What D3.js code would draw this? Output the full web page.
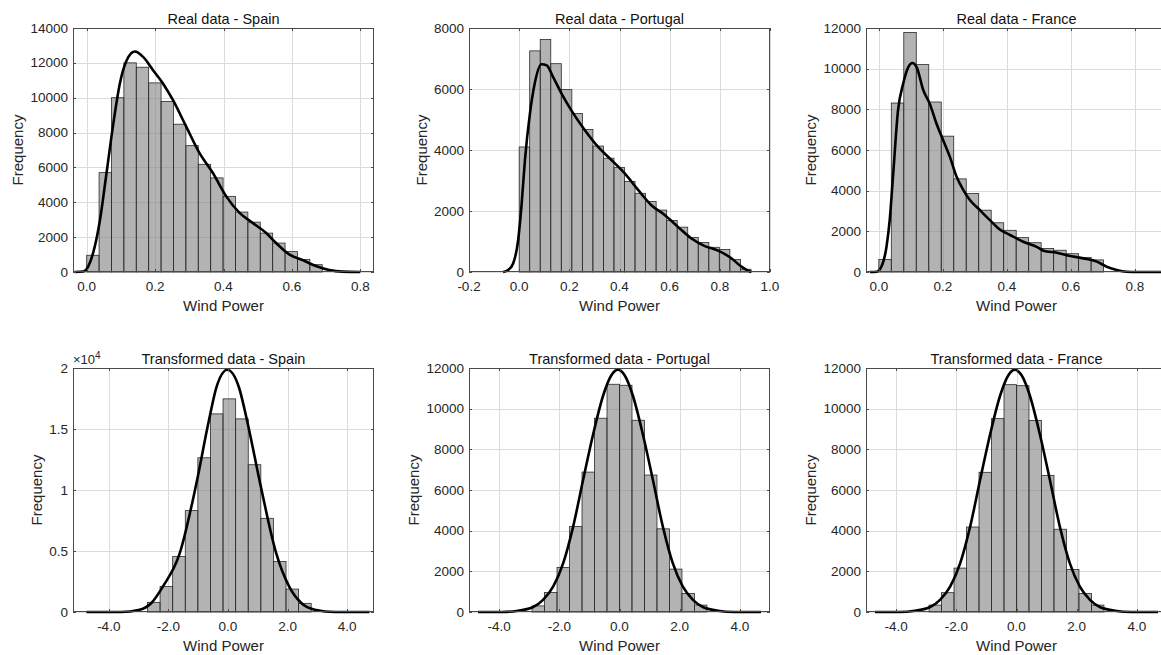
<!DOCTYPE html>
<html>
<head>
<meta charset="utf-8">
<title>Wind power histograms</title>
<style>
  body { margin: 0; background: #fff; }
  svg { font-family: "Liberation Sans", Arial, sans-serif; display: block; }
</style>
</head>
<body>
<div id="chart"></div>
<script src="https://d3js.org/d3.v7.min.js"></script>
<script>

// ---- data ----

// Real data, Spain
var spainRealBins = {start: 0, width: 0.03625};
var spainRealCounts = [960, 5700, 10000, 12000, 11750, 10850, 9780, 8480, 7250, 6180,
                       5400, 4340, 3440, 2860, 2230, 1660, 1170, 720, 420];
var spainRealKde = [[-0.035, 0], [-0.01, 30], [0.005, 340], [0.024, 1490], [0.039, 3000],
  [0.058, 5680], [0.078, 8530], [0.097, 10820], [0.117, 12150], [0.141, 12650],
  [0.165, 12340], [0.194, 11580], [0.223, 10820], [0.252, 9870], [0.291, 8340],
  [0.330, 6820], [0.369, 5680], [0.408, 4340], [0.447, 3390], [0.485, 2820],
  [0.524, 2250], [0.553, 1680], [0.592, 1010], [0.631, 690], [0.670, 340],
  [0.709, 115], [0.748, 20], [0.80, 0]];

// Real data, Portugal
var portugalRealBins = {start: 0, width: 0.042};
var portugalRealCounts = [4100, 7250, 7620, 6830, 5980, 5200, 4670, 4130, 3730, 3430, 2970,
                          2580, 2310, 2030, 1690, 1470, 1135, 970, 810, 740, 410, 90];
var portugalRealKde = [[-0.064, 0], [-0.044, 65], [-0.024, 280], [-0.004, 1050], [0.009, 2140],
  [0.023, 3670], [0.043, 5200], [0.062, 6180], [0.089, 6810], [0.109, 6780],
  [0.135, 6400], [0.169, 5850], [0.208, 5300], [0.262, 4650], [0.315, 4100],
  [0.368, 3670], [0.421, 3230], [0.474, 2690], [0.527, 2190], [0.580, 1870],
  [0.633, 1480], [0.687, 1100], [0.740, 850], [0.793, 700], [0.846, 450],
  [0.886, 175], [0.912, 45], [0.926, 0]];

// Real data, France
var franceRealBins = {start: 0, width: 0.039};
var franceRealCounts = [620, 8310, 11780, 10200, 8360, 6680, 4580, 3860, 3040, 2420,
                        2050, 1690, 1440, 1160, 1070, 900, 710, 595];
var franceRealKde = [[-0.028, 0], [-0.007, 15], [0.008, 260], [0.024, 1240], [0.034, 2550],
  [0.045, 4840], [0.060, 7950], [0.076, 9260], [0.092, 10080], [0.105, 10280],
  [0.118, 10080], [0.139, 8940], [0.159, 8280], [0.180, 7300], [0.201, 6480],
  [0.222, 5660], [0.243, 4680], [0.264, 4030], [0.285, 3530], [0.316, 3040],
  [0.347, 2550], [0.378, 2090], [0.410, 1820], [0.451, 1490], [0.493, 1240],
  [0.514, 1050], [0.556, 950], [0.598, 790], [0.639, 670], [0.681, 510],
  [0.712, 260], [0.743, 100], [0.774, 15], [0.806, 0], [0.90, 0]];

// Transformed data, Spain
var spainTransBins = {start: -2.70, width: 0.4225};
var spainTransCounts = [790, 2100, 4550, 8310, 12640, 16240, 17470, 15830, 12070, 7680,
                        4140, 1880, 710];
var spainTransPdf = [[-4.75, 0], [-3.6, 0], [-2.96, 190], [-2.57, 740], [-2.18, 2100],
  [-1.62, 4800], [-1.08, 10300], [-0.64, 15700], [-0.39, 18400], [-0.02, 19860],
  [0.37, 18400], [0.64, 15700], [1.10, 10300], [1.62, 4800], [2.05, 2100],
  [2.46, 740], [2.91, 190], [3.6, 0], [4.75, 0]];

// Transformed data, Portugal
var portugalTransBins = {start: -2.905, width: 0.415};
var portugalTransCounts = [300, 960, 2190, 4200, 6880, 9530, 11200, 11150, 9430, 6735,
                           4090, 2110, 915, 340];
var portugalTransPdf = [[-4.70, 0], [-3.9, 0], [-3.37, 65], [-2.87, 245], [-2.54, 600],
  [-2.20, 1260], [-1.87, 2400], [-1.54, 4200], [-1.21, 6490], [-0.87, 8780],
  [-0.54, 10660], [-0.27, 11640], [-0.05, 11920], [0.17, 11640], [0.44, 10660],
  [0.77, 8780], [1.11, 6490], [1.44, 4200], [1.77, 2400], [2.10, 1260],
  [2.44, 600], [2.77, 245], [3.27, 65], [3.82, 0], [4.70, 0]];

// Transformed data, France
var franceTransBins = {start: -2.905, width: 0.415};
var franceTransCounts = [340, 950, 2160, 4180, 6870, 9510, 11180, 11130, 9420, 6720,
                         4070, 2090, 915, 340];
var franceTransPdf = [[-4.70, 0], [-3.9, 0], [-3.37, 65], [-2.87, 245], [-2.54, 600],
  [-2.20, 1260], [-1.87, 2400], [-1.54, 4200], [-1.21, 6490], [-0.87, 8780],
  [-0.54, 10660], [-0.27, 11640], [-0.05, 11920], [0.17, 11640], [0.44, 10660],
  [0.77, 8780], [1.11, 6490], [1.44, 4200], [1.77, 2400], [2.10, 1260],
  [2.44, 600], [2.77, 245], [3.27, 65], [3.82, 0], [4.70, 0]];

// tick values
var realXTicks = [0, 0.2, 0.4, 0.6, 0.8];
var portugalRealXTicks = [-0.2, 0, 0.2, 0.4, 0.6, 0.8, 1.0];
var transXTicks = [-4, -2, 0, 2, 4];

// ---- layout ----
var width = 1161, height = 655;
var colLeft = [73, 469, 866], rowTop = [28, 368];
var boxW = 301, boxH = 244;

var svg = d3.select("#chart").append("svg")
    .attr("width", width)
    .attr("height", height);

var fmt1 = function(d) { return d.toFixed(1); };

var panels = [
  {col: 0, row: 0, title: "Real data - Spain", xDomain: [-0.04, 0.84], yMax: 14000,
   xTicks: realXTicks, yStep: 2000, bins: spainRealBins, counts: spainRealCounts, curve: spainRealKde},
  {col: 1, row: 0, title: "Real data - Portugal", xDomain: [-0.2, 1.0], yMax: 8000,
   xTicks: portugalRealXTicks, yStep: 2000, bins: portugalRealBins, counts: portugalRealCounts, curve: portugalRealKde},
  {col: 2, row: 0, title: "Real data - France", xDomain: [-0.04, 0.90], yMax: 12000,
   xTicks: realXTicks, yStep: 2000, bins: franceRealBins, counts: franceRealCounts, curve: franceRealKde},
  {col: 0, row: 1, title: "Transformed data - Spain", xDomain: [-5.2, 4.9], yMax: 20000,
   xTicks: transXTicks, yStep: 5000, exp: 4, bins: spainTransBins, counts: spainTransCounts, curve: spainTransPdf},
  {col: 1, row: 1, title: "Transformed data - Portugal", xDomain: [-5, 5], yMax: 12000,
   xTicks: transXTicks, yStep: 2000, bins: portugalTransBins, counts: portugalTransCounts, curve: portugalTransPdf},
  {col: 2, row: 1, title: "Transformed data - France", xDomain: [-5, 5], yMax: 12000,
   xTicks: transXTicks, yStep: 2000, bins: franceTransBins, counts: franceTransCounts, curve: franceTransPdf}
];

panels.forEach(function(p) {
  var left = colLeft[p.col], top = rowTop[p.row];
  var g = svg.append("g").attr("transform", "translate(" + left + "," + top + ")");

  var x = d3.scaleLinear().domain(p.xDomain).range([0, boxW]);
  var y = d3.scaleLinear().domain([0, p.yMax]).range([boxH, 0]);
  var yTicks = d3.range(0, p.yMax + 1, p.yStep);
  var yFmt = p.exp ? function(d) { return String(d / Math.pow(10, p.exp)); } : function(d) { return String(d); };

  // grid
  g.append("g").selectAll("line.vx")
    .data(p.xTicks).enter().append("line")
      .attr("x1", function(d) { return Math.round(x(d)) + 0.5; })
      .attr("x2", function(d) { return Math.round(x(d)) + 0.5; })
      .attr("y1", 0).attr("y2", boxH)
      .style("stroke", "#dcdcdc");
  g.append("g").selectAll("line.hy")
    .data(yTicks).enter().append("line")
      .attr("y1", function(d) { return Math.round(y(d)) + 0.5; })
      .attr("y2", function(d) { return Math.round(y(d)) + 0.5; })
      .attr("x1", 0).attr("x2", boxW)
      .style("stroke", "#dcdcdc");

  // bars
  var bw = x(p.bins.width) - x(0);
  g.append("g").selectAll("rect")
    .data(p.counts).enter().append("rect")
      .attr("x", function(d, i) { return x(p.bins.start + i * p.bins.width); })
      .attr("y", function(d) { return y(d); })
      .attr("width", bw)
      .attr("height", function(d) { return boxH - y(d); })
      .style("fill", "#808080")
      .style("fill-opacity", 0.6)
      .style("stroke", "#2a2a2a")
      .style("stroke-width", 0.8);

  // density curve
  var line = d3.line()
    .x(function(d) { return x(d[0]); })
    .y(function(d) { return y(d[1]); })
    .curve(d3.curveMonotoneX);
  g.append("path")
    .datum(p.curve)
    .attr("d", line)
    .style("fill", "none")
    .style("stroke", "#000")
    .style("stroke-width", 2.6)
    .style("stroke-linejoin", "round");

  // box
  g.append("rect")
    .attr("x", 0.5).attr("y", 0.5)
    .attr("width", boxW - 1).attr("height", boxH - 1)
    .style("fill", "none")
    .style("stroke", "#4a4a4a")
    .style("stroke-width", 1);

  // inward ticks, mirrored
  var tl = 3;
  p.xTicks.forEach(function(d) {
    var xx = Math.round(x(d)) + 0.5;
    g.append("line").attr("x1", xx).attr("x2", xx).attr("y1", boxH).attr("y2", boxH - tl).style("stroke", "#4a4a4a");
    g.append("line").attr("x1", xx).attr("x2", xx).attr("y1", 0).attr("y2", tl).style("stroke", "#4a4a4a");
  });
  yTicks.forEach(function(d) {
    var yy = Math.round(y(d)) + 0.5;
    g.append("line").attr("x1", 0).attr("x2", tl).attr("y1", yy).attr("y2", yy).style("stroke", "#4a4a4a");
    g.append("line").attr("x1", boxW).attr("x2", boxW - tl).attr("y1", yy).attr("y2", yy).style("stroke", "#4a4a4a");
  });

  // tick labels
  g.append("g").selectAll("text")
    .data(p.xTicks).enter().append("text")
      .attr("x", function(d) { return x(d); })
      .attr("y", boxH + 19)
      .attr("text-anchor", "middle")
      .style("font-size", "13.5px")
      .style("fill", "#262626")
      .text(fmt1);
  var yLabels = g.append("g").selectAll("text")
    .data(yTicks).enter().append("text")
      .attr("x", -5)
      .attr("y", function(d) { return y(d) + 4.5; })
      .attr("text-anchor", "end")
      .style("font-size", "13.5px")
      .style("fill", "#262626")
      .text(yFmt);

  var maxW = 0;
  yLabels.each(function() { maxW = Math.max(maxW, this.getComputedTextLength()); });

  if (p.exp) {
    var ex = g.append("text")
      .attr("x", 0).attr("y", -4)
      .style("font-size", "13px")
      .style("fill", "#262626");
    ex.append("tspan").text("\u00d710");
    ex.append("tspan").attr("dy", -5).style("font-size", "10px").text(p.exp);
  }

  // axis labels and title
  g.append("text")
    .attr("x", boxW / 2).attr("y", boxH + 39)
    .attr("text-anchor", "middle")
    .style("font-size", "15px")
    .style("fill", "#262626")
    .text("Wind Power");
  g.append("text")
    .attr("transform", "translate(" + (-5 - maxW - 7) + "," + (boxH / 2) + ") rotate(-90)")
    .attr("text-anchor", "middle")
    .style("font-size", "15px")
    .style("fill", "#262626")
    .text("Frequency");
  g.append("text")
    .attr("x", boxW / 2).attr("y", -4)
    .attr("text-anchor", "middle")
    .style("font-size", "14.5px")
    .style("fill", "#111")
    .text(p.title);
});
</script>
</body>
</html>
